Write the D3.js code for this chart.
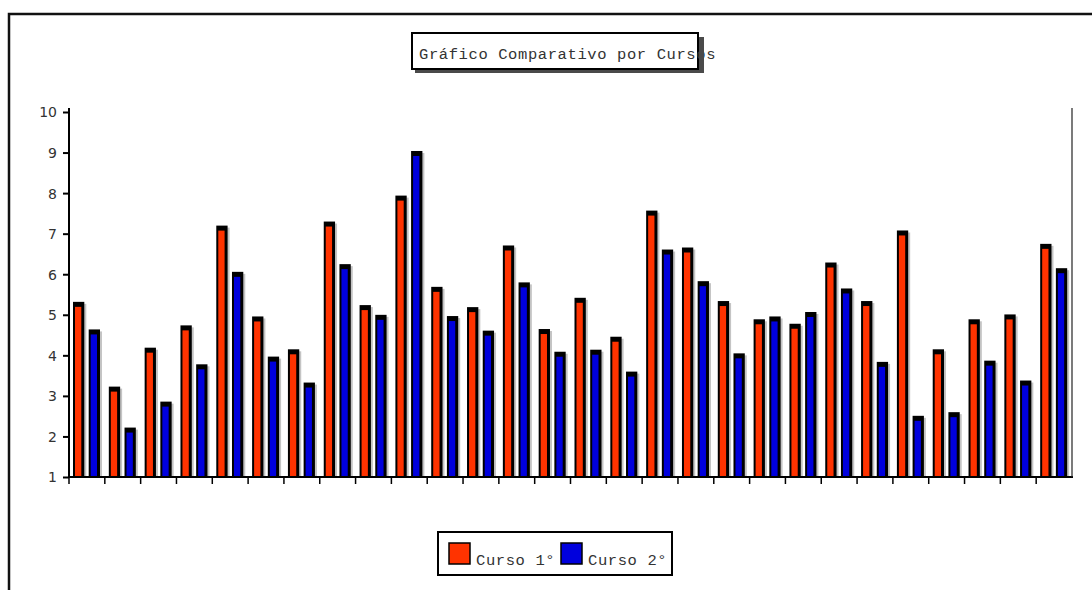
<!DOCTYPE html>
<html>
<head>
<meta charset="utf-8">
<script src="https://cdn.jsdelivr.net/npm/d3@7"></script>
<style>
  body { margin: 0; background: #fff; }
  svg { display: block; }
</style>
</head>
<body>
<svg id="chart" width="1092" height="590"></svg>
<script>
// data
var cursos = d3.range(1, 29);   // 28 groups, no labels shown
var curso1 = [5.22, 3.13, 4.09, 4.64, 7.10, 4.86, 4.05, 7.20, 5.14, 7.84,
              5.59, 5.09, 6.61, 4.55, 5.32, 4.36, 7.47, 6.56, 5.24, 4.79,
              4.68, 6.19, 5.24, 6.98, 4.05, 4.79, 4.91, 6.65];
var curso2 = [4.54, 2.12, 2.76, 3.68, 5.96, 3.87, 3.23, 6.15, 4.90, 8.94,
              4.87, 4.51, 5.70, 3.99, 4.04, 3.50, 6.51, 5.73, 3.95, 4.86,
              4.97, 5.55, 3.74, 2.41, 2.50, 3.77, 3.28, 6.05];
var series = ['Curso 1\u00b0', 'Curso 2\u00b0'];
var yTicks = [1, 2, 3, 4, 5, 6, 7, 8, 9, 10];
var titulo = 'Gr\u00e1fico Comparativo por Cursos';

var colors = ['#ff3300', '#0000dd'];
var mono = '"Liberation Mono", "DejaVu Sans Mono", monospace';

var svg = d3.select('#chart');

var x = d3.scaleBand().domain(cursos).range([69, 1072]);
var xs = d3.scaleBand().domain([0, 1]).range([4, 31]).paddingInner(0.28);
var y = d3.scaleLinear().domain([1, 10]).range([477, 112]);

// outer frame (only top and left visible)
svg.append('path')
  .attr('d', 'M9,590 V14 H1092')
  .attr('fill', 'none')
  .attr('stroke', '#111')
  .attr('stroke-width', 2.5);

// title box
var tb = svg.append('g');
tb.append('rect')
  .attr('x', 412).attr('y', 33).attr('width', 286).attr('height', 36)
  .attr('fill', '#fff').attr('stroke', '#000').attr('stroke-width', 2);
tb.append('text')
  .attr('x', 419).attr('y', 59)
  .attr('font-family', mono).attr('font-size', 15.5)
  .attr('letter-spacing', 0.6)
  .attr('fill', '#333')
  .text(titulo);
// shadow is painted over the text, like in the original
tb.append('path')
  .attr('d', 'M699,37 H704 V73 H415 V70 H699 Z')
  .attr('fill', '#4a4a4a');

// bars
var groups = svg.append('g').selectAll('g')
  .data(cursos)
  .join('g')
  .attr('transform', function(d){ return 'translate(' + x(d) + ',0)'; });

var bars = groups.selectAll('g')
  .data(function(d, i){
    return [{s: 0, v: curso1[i]}, {s: 1, v: curso2[i]}];
  })
  .join('g')
  .attr('transform', function(d){ return 'translate(' + xs(d.s) + ',0)'; });

var bw = xs.bandwidth();

// light shadow on the right
bars.append('rect')
  .attr('x', 1).attr('y', function(d){ return y(d.v) - 2; })
  .attr('width', bw + 1)
  .attr('height', function(d){ return y(1) - y(d.v) + 2; })
  .attr('fill', '#c4c4c4');
// black body
bars.append('rect')
  .attr('x', 0).attr('y', function(d){ return y(d.v) - 4; })
  .attr('width', bw)
  .attr('height', function(d){ return y(1) - y(d.v) + 4; })
  .attr('fill', '#000');
// colour face
bars.append('rect')
  .attr('x', 2).attr('y', function(d){ return y(d.v) + 1; })
  .attr('width', bw - 5)
  .attr('height', function(d){ return y(1) - y(d.v) - 1; })
  .attr('fill', function(d){ return colors[d.s]; });

// y axis
var yAxis = svg.append('g')
  .attr('transform', 'translate(69,0)')
  .call(d3.axisLeft(y).tickValues(yTicks).tickSize(6).tickSizeOuter(0).tickFormat(d3.format('d')));
yAxis.select('.domain').remove();
yAxis.append('line')
  .attr('x1', 0).attr('x2', 0).attr('y1', 108).attr('y2', 478)
  .attr('stroke', '#000').attr('stroke-width', 2);
yAxis.selectAll('.tick line').attr('stroke', '#000').attr('stroke-width', 2);
yAxis.selectAll('.tick text')
  .attr('x', -12).attr('dy', '0.35em')
  .attr('font-family', '"DejaVu Sans", sans-serif').attr('font-size', 14)
  .attr('fill', '#333');

// x axis: ticks at each group boundary, no labels
var xAxis = svg.append('g').attr('transform', 'translate(0,477)');
xAxis.append('line')
  .attr('x1', 68).attr('x2', 1073)
  .attr('stroke', '#000').attr('stroke-width', 2);
xAxis.selectAll('line.tk')
  .data(cursos)
  .join('line')
  .attr('class', 'tk')
  .attr('x1', function(d){ return x(d); })
  .attr('x2', function(d){ return x(d); })
  .attr('y1', 0).attr('y2', 7)
  .attr('stroke', '#000').attr('stroke-width', 1.5);

// right-hand frame line of the plot
svg.append('line')
  .attr('x1', 1072).attr('x2', 1072).attr('y1', 108).attr('y2', 477)
  .attr('stroke', '#222').attr('stroke-width', 1.2);

// legend
var lg = svg.append('g');
lg.append('rect')
  .attr('x', 438).attr('y', 532).attr('width', 234).attr('height', 43)
  .attr('fill', '#fff').attr('stroke', '#000').attr('stroke-width', 2);
var items = lg.selectAll('g')
  .data(series)
  .join('g')
  .attr('transform', function(d, i){ return 'translate(' + (449 + i * 112) + ',0)'; });
items.append('rect')
  .attr('x', 0).attr('y', 543).attr('width', 21).attr('height', 21)
  .attr('fill', function(d, i){ return colors[i]; })
  .attr('stroke', '#000').attr('stroke-width', 1.5);
items.append('text')
  .attr('x', 27).attr('y', 565)
  .attr('font-family', mono).attr('font-size', 15.5)
  .attr('letter-spacing', 0.6)
  .attr('fill', '#333')
  .text(function(d){ return d; });
</script>
</body>
</html>
